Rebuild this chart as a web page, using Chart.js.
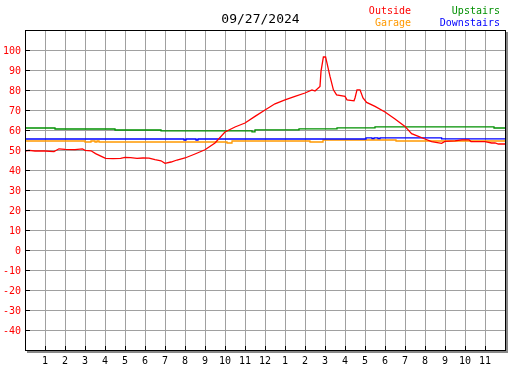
<!DOCTYPE html>
<html>
<head>
<meta charset="utf-8">
<script src="https://cdn.jsdelivr.net/npm/chart.js@4.4.1/dist/chart.umd.min.js"></script>
<style>
  body { margin: 0; background: #fff; }
  #wrap { width: 527px; height: 370px; }
</style>
</head>
<body>
<div id="wrap"><canvas id="myChart" width="527" height="370"></canvas></div>
<script>
// chart title and x tick labels (hour of day)
const chartTitle = "09/27/2024";
const hourLabels = ["", "1", "2", "3", "4", "5", "6", "7", "8", "9", "10", "11", "12",
                    "1", "2", "3", "4", "5", "6", "7", "8", "9", "10", "11", ""];

// Outside temperature (hour, °F)
const outsideHours = [0, 0.2, 0.5, 1.0, 1.45, 1.7, 2.0, 2.5, 2.87, 3.0, 3.3, 3.53, 3.87, 4.03, 4.4, 4.78,
  5.0, 5.28, 5.6, 5.9, 6.2, 6.5, 6.8, 7.0, 7.3, 7.6, 8.0, 8.5, 9.0, 9.5, 10.0, 10.5, 11.0, 11.5,
  12.0, 12.5, 13.0, 13.5, 14.0, 14.35, 14.5, 14.75, 14.8, 14.92, 15.03, 15.08, 15.25, 15.42, 15.58,
  16.0, 16.1, 16.45, 16.5, 16.6, 16.75, 16.9, 17.08, 17.5, 18.0, 18.5, 19.0, 19.33, 19.67, 20.0,
  20.33, 20.83, 21.0, 21.5, 21.85, 22.2, 22.3, 23.0, 23.33, 23.5, 23.67, 24.0];
const outsideTemps = [49.5, 49.8, 49.5, 49.5, 49.2, 50.6, 50.3, 50.2, 50.6, 49.8, 49.6, 48.2, 46.6, 45.8, 45.7, 45.8,
  46.3, 46.2, 45.8, 46.0, 45.9, 45.2, 44.6, 43.3, 44.0, 45.0, 46.0, 48.0, 50.1, 53.5, 59.0, 61.5, 63.5, 66.8,
  70.0, 73.1, 75.1, 76.8, 78.5, 80.0, 79.5, 81.8, 89.3, 96.5, 96.5, 94.3, 86.8, 80.1, 77.6,
  76.8, 75.1, 74.6, 76.0, 80.1, 80.1, 76.0, 73.8, 71.8, 69.0, 65.5, 61.8, 58.2, 56.8, 55.5,
  54.2, 53.3, 54.3, 54.6, 55.1, 55.1, 54.2, 54.2, 53.5, 53.5, 53.0, 53.0];

// Garage (value holds from each hour until the next)
const garageHours = [0, 3.0, 3.3, 3.5, 3.6, 3.7, 10.1, 10.35, 14.25, 14.9, 18.55, 24];
const garageTemps = [54.5, 54.0, 54.5, 54.0, 54.5, 54.0, 53.5, 54.5, 54.0, 55.0, 54.5, 54.5];

// Upstairs
const upstairsHours = [0, 1.5, 4.5, 6.8, 11.35, 11.5, 13.7, 15.6, 17.5, 23.45, 24];
const upstairsTemps = [61.0, 60.5, 60.0, 59.6, 59.1, 60.1, 60.6, 61.1, 61.6, 61.0, 61.0];

// Downstairs
const downstairsHours = [0, 7.95, 8.05, 8.55, 8.65, 17.05, 17.35, 17.45, 17.65, 17.75, 20.83, 24];
const downstairsTemps = [55.5, 55.0, 55.5, 55.0, 55.5, 56.1, 55.7, 56.1, 55.7, 56.1, 55.6, 55.6];

const toPoints = (hours, temps) => hours.map((h, i) => ({ x: h, y: temps[i] }));

const monoFont = "'DejaVu Sans Mono', monospace";

// white background, frame with shadow, inner tick marks, title and legend text
const decor = {
  id: "decor",
  beforeDraw(chart) {
    const ctx = chart.ctx;
    ctx.save();
    ctx.fillStyle = "#fff";
    ctx.fillRect(0, 0, chart.width, chart.height);
    ctx.restore();
  },
  afterDraw(chart) {
    const { ctx, chartArea: a } = chart;
    const xs = chart.scales.x, ys = chart.scales.y;
    ctx.save();

    // shadow on right and bottom
    ctx.fillStyle = "#888";
    ctx.fillRect(a.right + 1, a.top + 2, 2, a.bottom - a.top + 1);
    ctx.fillRect(a.left + 2, a.bottom + 1, a.right - a.left + 1, 2);

    // frame
    ctx.strokeStyle = "#000";
    ctx.lineWidth = 1;
    ctx.strokeRect(a.left + 0.5, a.top + 0.5, a.right - a.left, a.bottom - a.top);

    // inner tick marks
    ctx.beginPath();
    for (let v = -40; v <= 100; v += 10) {
      const py = Math.round(ys.getPixelForValue(v)) + 0.5;
      ctx.moveTo(a.left, py);
      ctx.lineTo(a.left + 5, py);
    }
    for (let h = 1; h < 24; h++) {
      const px = Math.round(xs.getPixelForValue(h)) + 0.5;
      ctx.moveTo(px, a.bottom);
      ctx.lineTo(px, a.bottom - 4);
    }
    ctx.stroke();

    // title
    ctx.font = "13px " + monoFont;
    ctx.fillStyle = "#000";
    ctx.textAlign = "center";
    ctx.textBaseline = "middle";
    ctx.fillText(chartTitle, chart.width / 2 - 3, 20);

    // legend
    ctx.font = "10px " + monoFont;
    ctx.textAlign = "right";
    const ds = chart.data.datasets;
    const spots = [[411, 11], [411, 23], [500, 11], [500, 23]];
    ds.forEach((d, i) => {
      ctx.fillStyle = d.borderColor;
      ctx.fillText(d.label, spots[i][0], spots[i][1]);
    });
    ctx.restore();
  }
};

const ctx = document.getElementById("myChart").getContext("2d");
new Chart(ctx, {
  type: "line",
  data: {
    datasets: [
      { label: "Outside", data: toPoints(outsideHours, outsideTemps), borderColor: "#ff0000", order: 0 },
      { label: "Garage", data: toPoints(garageHours, garageTemps), borderColor: "#ff9900", stepped: true, order: 3 },
      { label: "Upstairs", data: toPoints(upstairsHours, upstairsTemps), borderColor: "#009000", stepped: true, order: 1 },
      { label: "Downstairs", data: toPoints(downstairsHours, downstairsTemps), borderColor: "#0000ff", stepped: true, order: 2 }
    ]
  },
  options: {
    responsive: false,
    animation: false,
    layout: { padding: { top: 30, right: 22, left: 0, bottom: 0 } },
    elements: {
      point: { radius: 0 },
      line: { borderWidth: 1.3, tension: 0 }
    },
    plugins: {
      legend: { display: false },
      title: { display: false },
      tooltip: { enabled: false }
    },
    scales: {
      x: {
        type: "linear",
        min: 0,
        max: 24,
        afterFit: (scale) => { scale.height = 20; },
        border: { display: false },
        grid: { color: "#a0a0a0", lineWidth: 1, drawTicks: false },
        ticks: {
          stepSize: 1,
          autoSkip: false,
          maxRotation: 0,
          padding: 5,
          color: "#000",
          font: { family: monoFont, size: 10 },
          callback: (v) => hourLabels[v] ?? ""
        }
      },
      y: {
        min: -50,
        max: 110,
        afterFit: (scale) => { scale.width = 25; },
        border: { display: false },
        grid: { color: "#a0a0a0", lineWidth: 1, drawTicks: false },
        ticks: {
          stepSize: 10,
          padding: 4,
          labelOffset: 1,
          color: "#ff0000",
          font: { family: monoFont, size: 10 },
          callback: (v) => (v <= -50 || v >= 110) ? "" : v
        }
      }
    }
  },
  plugins: [decor]
});
</script>
</body>
</html>
